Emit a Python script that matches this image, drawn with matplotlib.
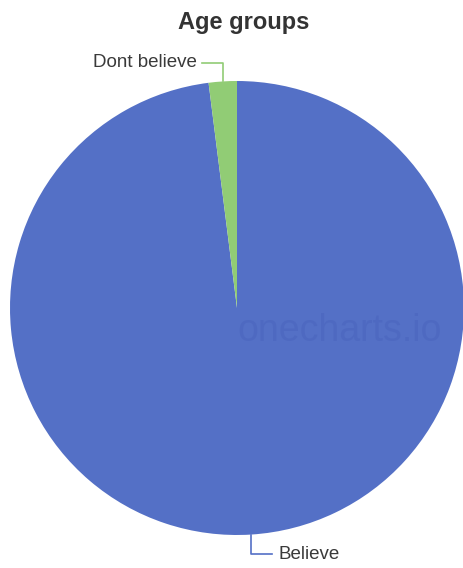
import numpy as np
import matplotlib.pyplot as plt

# дані
title = "Age groups"
labels = ["Believe", "Dont believe"]
values = [98, 2]
colors = ["#5470c6", "#91cc75"]

plt.rcParams["font.family"] = ["Liberation Sans", "DejaVu Sans"]

fig = plt.figure(figsize=(4.64, 5.68), dpi=100)
ax = fig.add_axes([10 / 464, 33 / 568, 454 / 464, 454 / 568])

wedges, _ = ax.pie(values, colors=colors, startangle=90, counterclock=False,
                   radius=1, wedgeprops=dict(linewidth=0))
ax.set_xlim(-1, 1)
ax.set_ylim(-1, 1)
ax.set_aspect("auto")
ax.axis("off")

# підписи з виносними лініями
for w, lab in zip(wedges, labels):
    mid = np.deg2rad((w.theta1 + w.theta2) / 2)
    x0, y0 = np.cos(mid), np.sin(mid)
    if y0 > 0:
        y1 = 1.08
        x1 = x0 - 0.09
        ax.plot([x0, x0, x1], [y0, y1, y1], color=w.get_facecolor(),
                lw=1.2, clip_on=False)
        ax.text(x1 - 0.025, y1, lab, ha="right", va="center", fontsize=13.5,
                color="#3a3a3a", clip_on=False)
    else:
        y1 = -1.085
        x1 = x0 + 0.09
        ax.plot([x0, x0, x1], [y0, y1, y1], color=w.get_facecolor(),
                lw=1.2, clip_on=False)
        ax.text(x1 + 0.03, y1, lab, ha="left", va="center", fontsize=13.5,
                color="#3a3a3a", clip_on=False)

# водяний знак
ax.text(0.0, -0.1, "onecharts.io", ha="left", va="center", fontsize=27,
        color="#4d68c0", alpha=0.8)

fig.text(244 / 464, 1 - 22 / 568, title, ha="center", va="center",
         fontsize=17, fontweight="bold", color="#333333")

plt.savefig("out.png")
